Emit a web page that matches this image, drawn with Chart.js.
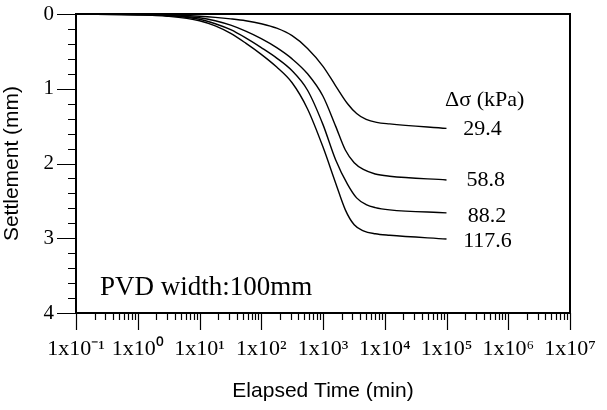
<!DOCTYPE html>
<html>
<head>
<meta charset="utf-8">
<script src="https://cdn.jsdelivr.net/npm/chart.js@4.4.1/dist/chart.umd.min.js"></script>
<style>
  html, body { margin: 0; padding: 0; background: #fff; }
  #wrap { width: 607px; height: 410px; }
</style>
</head>
<body>
<div id="wrap"><canvas id="chart" width="607" height="410"></canvas></div>
<script>
// elapsed time (min) and settlement (mm), one pair per load step
const time294 = [0.1, 1, 3, 10, 18, 32, 56, 100, 178, 316, 562, 1000, 1600, 2500, 3500, 5000, 7400, 12000, 100000];
const settle294 = [0, 0.005, 0.01, 0.03, 0.045, 0.065, 0.09, 0.13, 0.19, 0.29, 0.46, 0.70, 0.96, 1.20, 1.33, 1.41, 1.45, 1.47, 1.53];

const time588 = [0.1, 1, 3, 10, 18, 32, 56, 100, 178, 316, 562, 1000, 1600, 2300, 3200, 4500, 7000, 12000, 100000];
const settle588 = [0, 0.01, 0.02, 0.05, 0.09, 0.15, 0.23, 0.33, 0.45, 0.60, 0.80, 1.10, 1.50, 1.82, 1.99, 2.08, 2.14, 2.17, 2.22];

const time882 = [0.1, 1, 3, 10, 18, 32, 56, 100, 178, 316, 562, 1000, 1600, 2500, 3500, 5000, 7000, 12000, 100000];
const settle882 = [0, 0.01, 0.02, 0.07, 0.13, 0.21, 0.32, 0.45, 0.59, 0.76, 1.02, 1.48, 1.95, 2.28, 2.46, 2.55, 2.59, 2.62, 2.66];

const time1176 = [0.1, 1, 3, 10, 18, 32, 56, 100, 178, 316, 562, 1000, 1600, 2300, 3200, 4500, 7000, 12000, 100000];
const settle1176 = [0, 0.01, 0.03, 0.09, 0.16, 0.26, 0.39, 0.54, 0.71, 0.92, 1.27, 1.78, 2.26, 2.62, 2.82, 2.90, 2.94, 2.96, 3.01];

const loadLabels = ['29.4', '58.8', '88.2', '117.6'];
const decadeExponents = [-1, 0, 1, 2, 3, 4, 5, 6, 7];
const settlementTicks = [0, 1, 2, 3, 4];

const SERIF = '"Liberation Serif", "Times New Roman", serif';
const SANS = '"Liberation Sans", Arial, sans-serif';

const SUP = { '-': '\u207B', '0': '\u2070', '1': '\u00B9', '2': '\u00B2', '3': '\u00B3',
  '4': '\u2074', '5': '\u2075', '6': '\u2076', '7': '\u2077', '8': '\u2078', '9': '\u2079' };
function sup(n) {
  return String(n).split('').map(c => SUP[c]).join('');
}

function pairs(xs, ys) {
  return xs.map((x, i) => ({ x, y: ys[i] }));
}

const series = [
  pairs(time294, settle294),
  pairs(time588, settle588),
  pairs(time882, settle882),
  pairs(time1176, settle1176)
];

function noOverflow(scale) {
  scale.paddingLeft = 0;
  scale.paddingRight = 0;
  scale.paddingTop = 0;
  scale.paddingBottom = 0;
}

// box, tick marks and the text notes inside the plot
const framePlugin = {
  id: 'frame',
  afterDraw(chart) {
    const { ctx, chartArea: a, scales } = chart;
    const xs = scales.x, ys = scales.y;
    ctx.save();
    ctx.strokeStyle = '#000';
    ctx.lineWidth = 2;
    ctx.strokeRect(a.left, a.top, a.right - a.left, a.bottom - a.top);

    ctx.lineWidth = 1.2;
    ctx.beginPath();
    xs.ticks.forEach(t => {
      const px = Math.round(xs.getPixelForValue(t.value)) + 0.5;
      const len = t.major ? 17 : 7;
      ctx.moveTo(px, a.bottom);
      ctx.lineTo(px, a.bottom + len);
    });
    ys.ticks.forEach(t => {
      const py = Math.round(ys.getPixelForValue(t.value)) + 0.5;
      const len = t.major ? 19 : 8;
      ctx.moveTo(a.left, py);
      ctx.lineTo(a.left - len, py);
    });
    ctx.stroke();

    const notes = [
      { text: '\u0394\u03C3 (kPa)', x: 9.5e4, y: 1.16, size: 22 },
      { text: loadLabels[0], x: 1.86e5, y: 1.54, size: 22 },
      { text: loadLabels[1], x: 2.1e5, y: 2.22, size: 22 },
      { text: loadLabels[2], x: 2.2e5, y: 2.70, size: 22 },
      { text: loadLabels[3], x: 1.86e5, y: 3.04, size: 22 },
      { text: 'PVD width:100mm', x: 0.245, y: 3.67, size: 27 }
    ];
    ctx.fillStyle = '#000';
    ctx.textAlign = 'left';
    ctx.textBaseline = 'middle';
    notes.forEach(n => {
      ctx.font = n.size + 'px ' + SERIF;
      ctx.fillText(n.text, xs.getPixelForValue(n.x), ys.getPixelForValue(n.y));
    });
    ctx.restore();
  }
};

new Chart(document.getElementById('chart'), {
  type: 'line',
  data: {
    datasets: series.map((pts, i) => ({
      label: loadLabels[i],
      data: pts,
      borderColor: '#000',
      borderWidth: 1.4,
      pointRadius: 0,
      fill: false,
      cubicInterpolationMode: 'monotone'
    }))
  },
  options: {
    responsive: false,
    animation: false,
    layout: { padding: { left: 0, top: 14, right: 37, bottom: 0 } },
    plugins: { legend: { display: false }, tooltip: { enabled: false } },
    scales: {
      x: {
        type: 'logarithmic',
        min: 0.1,
        max: 1e7,
        afterBuildTicks(scale) {
          const ticks = [];
          decadeExponents.forEach(e => {
            const base = Math.pow(10, e);
            const last = e === decadeExponents[decadeExponents.length - 1];
            for (let m = 1; m <= (last ? 1 : 9); m++) {
              ticks.push({ value: m * base, major: m === 1 });
            }
          });
          scale.ticks = ticks;
        },
        afterFit(scale) { scale.height = 97; noOverflow(scale); },
        grid: { display: false, drawTicks: false },
        border: { display: false },
        ticks: {
          autoSkip: false,
          maxRotation: 0,
          padding: 23,
          color: '#000',
          font: { family: SERIF, size: 22 },
          callback(value, i, ticks) {
            if (!ticks[i].major) return '';
            return '1x10' + sup(Math.round(Math.log10(value)));
          }
        },
        title: {
          display: true,
          text: 'Elapsed Time (min)',
          color: '#000',
          font: { family: SANS, size: 21 },
          padding: { top: 0, bottom: 6 }
        }
      },
      y: {
        type: 'linear',
        min: 0,
        max: 4,
        reverse: true,
        afterBuildTicks(scale) {
          const ticks = [];
          for (let i = 0; i <= 20; i++) {
            ticks.push({ value: i / 5, major: i % 5 === 0 });
          }
          scale.ticks = ticks;
        },
        afterFit(scale) { scale.width = 76; noOverflow(scale); },
        grid: { display: false, drawTicks: false },
        border: { display: false },
        ticks: {
          autoSkip: false,
          padding: 22,
          color: '#000',
          font: { family: SERIF, size: 21 },
          callback(value) {
            const r = Math.round(value * 1000) / 1000;
            return settlementTicks.includes(r) ? String(r) : '';
          }
        },
        title: {
          display: true,
          text: 'Settlement (mm)',
          color: '#000',
          font: { family: SANS, size: 21 },
          padding: { top: 0, bottom: 10 }
        }
      }
    }
  },
  plugins: [framePlugin]
});
</script>
</body>
</html>
